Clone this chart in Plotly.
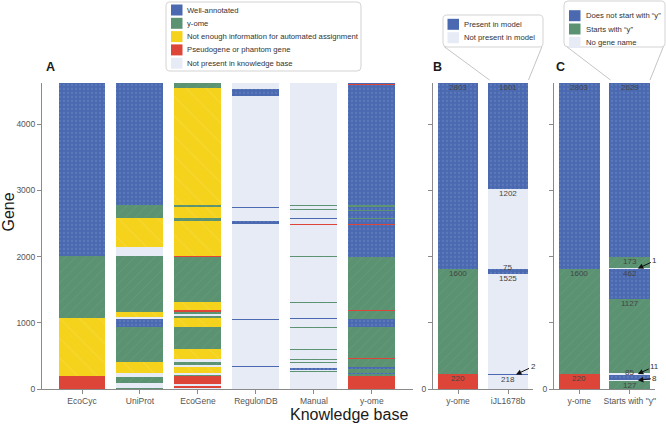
import plotly.graph_objects as go

W, H = 666, 425
FONT = 'Liberation Sans, Arial, Helvetica, sans-serif'

# W well-annotated, Y y-ome, I not enough info, P pseudogene, N not present
COLORS = {
    'W': '#4a69b0',
    'Y': '#5a9272',
    'I': '#f5d31d',
    'P': '#dc4537',
    'N': '#e7ebf6',
}
PATTERNS = {
    'W': dict(shape='.', fgcolor='#6c88c6', size=4, solidity=0.25),
    'Y': dict(shape='/', fgcolor='#6ea685', size=7, solidity=0.12),
    'I': dict(shape='\\', fgcolor='#f9e170', size=14, solidity=0.06),
    'P': dict(shape=''),
    'N': dict(shape=''),
}

KB_NAMES = ['EcoCyc', 'UniProt', 'EcoGene', 'RegulonDB', 'Manual', 'y-ome']

# gene blocks from bottom to top of each column
ecocyc_status = ['P', 'I', 'Y', 'W']
ecocyc_count = [195, 875, 935, 2618]

uniprot_status = ['Y', 'N', 'Y', 'N', 'I', 'Y', 'W', 'N', 'I', 'Y', 'N', 'I',
                  'Y', 'W']
uniprot_count = [20, 75, 91, 51, 175, 518, 136, 14, 77, 853, 138, 437, 202,
                 1836]

ecogene_status = ['N', 'P', 'N', 'P', 'Y', 'N', 'I', 'N', 'Y', 'N', 'I', 'Y',
                  'I', 'Y', 'N', 'Y', 'P', 'I', 'Y', 'P', 'I', 'Y', 'I', 'Y',
                  'I', 'Y']
ecogene_count = [15, 40, 10, 130, 30, 12, 100, 11, 60, 45, 146, 332, 135, 44,
                 10, 50, 18, 130, 682, 10, 535, 45, 157, 40, 1765, 71]

regulondb_status = ['N', 'W', 'N', 'W', 'N', 'W', 'N', 'W', 'N', 'W', 'N']
regulondb_count = [327, 20, 698, 12, 1440, 43, 193, 12, 1691, 101, 86]

manual_status = ['N', 'Y', 'N', 'W', 'N', 'Y', 'N', 'W', 'N', 'Y', 'N', 'Y',
                 'N', 'Y', 'N', 'Y', 'N', 'W', 'N', 'Y', 'N', 'Y', 'N', 'P',
                 'N', 'W', 'N', 'Y', 'W', 'N', 'Y', 'N', 'W', 'N', 'P', 'N']
manual_count = [196, 14, 11, 13, 18, 28, 7, 25, 86, 8, 38, 6, 145, 8, 323, 7,
                125, 12, 233, 7, 690, 8, 478, 8, 76, 10, 118, 14, 16, 44, 8,
                1648, 8, 160, 10, 17]

yome_kb_status = ['P', 'Y', 'W', 'Y', 'W', 'Y', 'P', 'Y', 'W', 'Y', 'P', 'Y',
                  'W', 'P', 'W', 'Y', 'W', 'Y', 'W', 'Y', 'W', 'P', 'W']
yome_kb_count = [196, 25, 15, 64, 37, 121, 8, 464, 130, 120, 12, 808, 480, 10,
                 80, 10, 112, 10, 60, 10, 1826, 10, 15]

# panel B
B_NAMES = ['y-ome', 'iJL1678b']
yome_status = ['P', 'Y', 'W']
yome_count = [220, 1600, 2803]
model_status = ['N', 'W', 'N', 'W', 'N', 'W']
model_count = [218, 2, 1525, 75, 1202, 1601]

# panel C
C_NAMES = ['y-ome', 'Starts with "y"']
name_status = ['Y', 'N', 'W', 'N', 'Y', 'W', 'N', 'Y', 'W']
name_count = [127, 8, 85, 11, 1127, 462, 1, 173, 2629]

LEGEND_A = [('W', 'Well-annotated'), ('Y', 'y-ome'),
            ('I', 'Not enough information for automated assignment'),
            ('P', 'Pseudogene or phantom gene'),
            ('N', 'Not present in knowledge base')]
LEGEND_B = [('W', 'Present in model'), ('N', 'Not present in model')]
LEGEND_C = [('W', 'Does not start with \u201cy\u201d'),
            ('Y', 'Starts with \u201cy\u201d'), ('N', 'No gene name')]


def px(x):
    return x / W


def py(y):
    return 1 - y / H


def add_stack(fig, columns, xa, ya):
    parts = {k: dict(x=[], base=[], y=[]) for k in COLORS}
    for name, status, count in columns:
        bottom = 0
        for s, c in zip(status, count):
            parts[s]['x'].append(name)
            parts[s]['base'].append(bottom)
            parts[s]['y'].append(c)
            bottom += c
    for k, p in parts.items():
        if not p['x']:
            continue
        fig.add_trace(go.Bar(
            x=p['x'], y=p['y'], base=p['base'], width=0.81,
            marker=dict(color=COLORS[k], line=dict(width=0),
                        pattern=PATTERNS[k]),
            xaxis=xa, yaxis=ya, showlegend=False, hoverinfo='skip'
        ))


def add_labels(fig, col, count, xa, ya):
    bottom = 0
    for c in count:
        top = bottom + c
        if c >= 50:
            fig.add_annotation(
                x=col, y=top, xref=xa, yref=ya, text=str(c),
                showarrow=False, xanchor='center', yanchor='middle',
                yshift=-4.5 if c >= 100 else 1.5,
                font=dict(size=8, color='#444')
            )
        else:
            fig.add_annotation(
                x=col + 0.16, y=bottom + c / 2, xref=xa, yref=ya,
                text=str(c), showarrow=True, arrowhead=2, arrowsize=1.1,
                arrowwidth=1, arrowcolor='#111', standoff=0,
                ax=17, ay=-8 if bottom >= 200 else -2,
                font=dict(size=8, color='#333')
            )
        bottom = top


def rounded_box(x0, y0, x1, y1, r=4):
    pts = [
        ('M', [(x0 + r, y0)]), ('L', [(x1 - r, y0)]),
        ('Q', [(x1, y0), (x1, y0 + r)]), ('L', [(x1, y1 - r)]),
        ('Q', [(x1, y1), (x1 - r, y1)]), ('L', [(x0 + r, y1)]),
        ('Q', [(x0, y1), (x0, y1 - r)]), ('L', [(x0, y0 + r)]),
        ('Q', [(x0, y0), (x0 + r, y0)]),
    ]
    path = ''
    for cmd, coords in pts:
        path += cmd + ' '.join(f'{px(a):.5f},{py(b):.5f}' for a, b in coords)
    return path + 'Z'


def add_legend(fig, items, box, sq_x, text_x, rows, lines):
    x0, y0, x1, y1 = box
    for a, b, c, d in lines:
        fig.add_shape(type='line', xref='paper', yref='paper',
                      x0=px(a), y0=py(b), x1=px(c), y1=py(d),
                      line=dict(color='#b5b5b5', width=0.8))
    fig.add_shape(type='path', xref='paper', yref='paper',
                  path=rounded_box(x0, y0, x1, y1),
                  fillcolor='white', line=dict(color='#c8c8c8', width=0.8))
    for (k, label), yc in zip(items, rows):
        fig.add_shape(type='rect', xref='paper', yref='paper',
                      x0=px(sq_x), x1=px(sq_x + 11.5),
                      y0=py(yc - 5.5), y1=py(yc + 5.5),
                      fillcolor=COLORS[k], line=dict(width=0))
        fig.add_annotation(x=px(text_x), y=py(yc), xref='paper',
                           yref='paper', text=label, showarrow=False,
                           xanchor='left', yanchor='middle',
                           font=dict(size=7.7, color='#333'))


def add_text(fig, x, y, text, size, angle=0):
    fig.add_annotation(x=px(x), y=py(y), xref='paper', yref='paper',
                       text=text, textangle=angle, showarrow=False,
                       xanchor='center', yanchor='middle',
                       font=dict(size=size, color='#1a1a1a'))


fig = go.Figure()

add_stack(fig, [
    ('EcoCyc', ecocyc_status, ecocyc_count),
    ('UniProt', uniprot_status, uniprot_count),
    ('EcoGene', ecogene_status, ecogene_count),
    ('RegulonDB', regulondb_status, regulondb_count),
    ('Manual', manual_status, manual_count),
    ('y-ome', yome_kb_status, yome_kb_count),
], 'x', 'y')
add_stack(fig, [(B_NAMES[0], yome_status, yome_count),
                (B_NAMES[1], model_status, model_count)], 'x2', 'y2')
add_stack(fig, [(C_NAMES[0], yome_status, yome_count),
                (C_NAMES[1], name_status, name_count)], 'x3', 'y3')

add_labels(fig, 0, yome_count, 'x2', 'y2')
add_labels(fig, 1, model_count, 'x2', 'y2')
add_labels(fig, 0, yome_count, 'x3', 'y3')
add_labels(fig, 1, name_count, 'x3', 'y3')

ydom = [py(389), py(83)]
total = sum(yome_count)
ticks = [0, 1000, 2000, 3000, 4000]
axis_style = dict(showline=True, linecolor='#8a8a8a', linewidth=1,
                  ticks='outside', ticklen=4, tickcolor='#8a8a8a',
                  showgrid=False, zeroline=False,
                  tickfont=dict(size=8.5, color='#555'))

fig.update_layout(
    width=W, height=H, autosize=False,
    margin=dict(l=0, r=0, t=0, b=0, autoexpand=False),
    paper_bgcolor='white', plot_bgcolor='white',
    font=dict(family=FONT),
    barmode='overlay', bargap=0,
    xaxis=dict(domain=[px(42), px(413)], type='category',
               categoryorder='array', categoryarray=KB_NAMES,
               range=[-0.69, 5.71], anchor='y', **axis_style),
    yaxis=dict(domain=ydom, range=[0, total + 2], tickvals=ticks,
               anchor='x', **axis_style),
    xaxis2=dict(domain=[px(433), px(533)], type='category',
                categoryorder='array', categoryarray=B_NAMES,
                range=[-0.5, 1.5], anchor='y2', **axis_style),
    yaxis2=dict(domain=ydom, range=[0, total + 2], tickvals=ticks,
                ticktext=['0', '', '', '', ''], anchor='x2', **axis_style),
    xaxis3=dict(domain=[px(554), px(655)], type='category',
                categoryorder='array', categoryarray=C_NAMES,
                range=[-0.5, 1.5], anchor='y3', **axis_style),
    yaxis3=dict(domain=ydom, range=[0, total + 2], tickvals=ticks,
                ticktext=['0', '', '', '', ''], anchor='x3', **axis_style),
)

# panel letters and axis titles
for letter, x in [('A', 50), ('B', 437.5), ('C', 560.5)]:
    add_text(fig, x, 67, f'<b>{letter}</b>', 12.5)
add_text(fig, 8.5, 212, 'Gene', 16, angle=-90)
add_text(fig, 349, 414, 'Knowledge base', 16)

add_legend(fig, LEGEND_A, (166, 2, 361, 71), 171, 185,
           [10, 23.3, 36.6, 49.9, 63.2], [])
add_legend(fig, LEGEND_B, (443, 15, 543, 47), 447.5, 462,
           [24.3, 37.7], [(444, 46.5, 489.5, 80), (542, 46.5, 528.5, 80)])
add_legend(fig, LEGEND_C, (564, 1, 665, 47), 569, 584,
           [15.7, 29, 42.3], [(566.5, 46.5, 610.5, 80),
                              (664, 45, 650, 80)])

# the page body has a default 8px margin; drop it so the figure fills the view
fig.write_html('out.html', config={'displayModeBar': False},
               post_script="document.body.style.margin = '0px';")
